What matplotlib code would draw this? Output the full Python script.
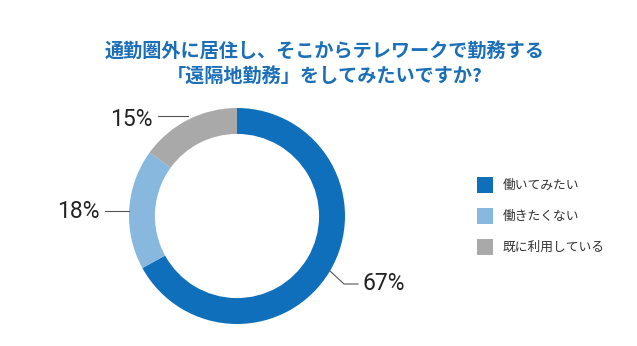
import numpy as np
import matplotlib.pyplot as plt

plt.rcParams['font.family'] = ['Noto Sans CJK JP', 'DejaVu Sans']

# 回答の内訳
labels = ['働いてみたい', '働きたくない', '既に利用している']
shares = [67, 18, 15]
colors = ['#106fbb', '#88b8de', '#a9a9a9']
title_lines = ['通勤圏外に居住し、そこからテレワークで勤務する',
               '「遠隔地勤務」をしてみたいですか?']

W, H = 637, 346
fig = plt.figure(figsize=(W / 100, H / 100), dpi=100)


def px(x, y):
    return x / W, 1 - y / H


# ドーナツの位置 (ピクセル)
cx, cy, r = 237, 216, 108
ax = fig.add_axes([(cx - r) / W, (H - cy - r) / H, 2 * r / W, 2 * r / H])
wedges, _ = ax.pie(shares, colors=colors, startangle=90, counterclock=False,
                   radius=1, wedgeprops=dict(width=0.24, linewidth=0))
ax.set_xlim(-1, 1)
ax.set_ylim(-1, 1)
ax.set_aspect('auto')
ax.axis('off')

for i, line in enumerate(title_lines):
    fig.text(*px(325, 52 + i * 25), line, ha='center', va='center',
             color='#1a6fb8', fontsize=13.8, fontweight='bold')

# 割合ラベルと引き出し線
label_pos = [(363, 284, 'left'), (100, 212, 'right'), (153, 119, 'right')]
elbow = [(344, 284), (128, 211), (167, 116)]
for w, v, (tx, ty, ha), (ex, ey) in zip(wedges, shares, label_pos, elbow):
    ang = np.deg2rad((w.theta1 + w.theta2) / 2)
    ax_pt = (cx + r * np.cos(ang), cy - r * np.sin(ang))
    end_x = tx + (-5 if ha == 'left' else 5)
    if abs(ax_pt[1] - ey) < 6:
        xs, ys = [ax_pt[0], end_x], [ey, ey]
    else:
        xs, ys = [ax_pt[0], ex, end_x], [ax_pt[1], ey, ey]
    fx, fy = zip(*[px(a, b) for a, b in zip(xs, ys)])
    fig.add_artist(plt.Line2D(fx, fy, color='#555555', lw=0.8))
    fig.text(*px(tx, ty), f'{v}%', ha=ha, va='center', fontsize=16.5,
             family='Roboto', fontweight='normal', color='#222222')

# 凡例
for i, (lab, c) in enumerate(zip(labels, colors)):
    y = 185 + i * 31
    fig.add_artist(plt.Rectangle(px(477, y + 8), 16 / W, 16 / H, color=c, lw=0))
    fig.text(*px(503, y), lab, ha='left', va='center', fontsize=9.2, color='#333333')

fig.savefig('out.png', dpi=100, facecolor='white')
